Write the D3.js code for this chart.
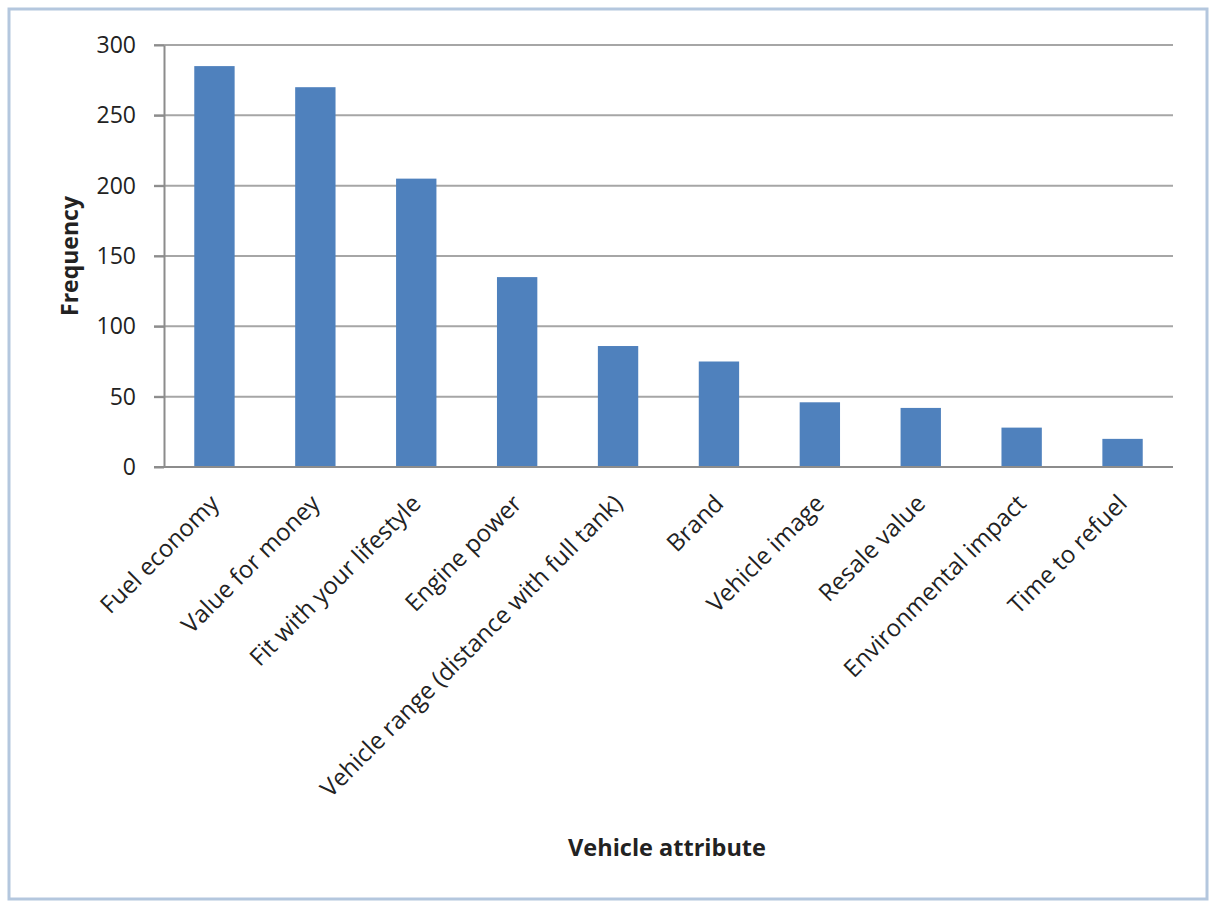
<html>
  <head>
    <title>Vehicle attribute frequency</title>
    <script type="text/javascript" src="https://cdn.jsdelivr.net/npm/d3@7"></script>
    <style type="text/css">
        body { margin: 0; background: #fff; }
        .chart text { font-family: "Open Sans", "DejaVu Sans", sans-serif; fill: #222; }
        .bar { fill: #4f81bd; }
        .grid line { stroke: #a6a6a6; stroke-width: 2; }
        .axis path, .axis line { stroke: #8c8c8c; stroke-width: 2; }
    </style>
  </head>
  <body>
    <div id="chart-container"></div>
    <script type="text/javascript">
      var categories = ["Fuel economy", "Value for money", "Fit with your lifestyle", "Engine power",
          "Vehicle range (distance with full tank)", "Brand", "Vehicle image", "Resale value",
          "Environmental impact", "Time to refuel"];
      var frequency = [285, 270, 205, 135, 86, 75, 46, 42, 28, 20];
      var yTicks = [0, 50, 100, 150, 200, 250, 300];

      var data = categories.map(function(c, i) { return {name: c, value: frequency[i]}; });

      var W = 1210, H = 902;
      var plotL = 164, plotR = 1173, plotT = 45, plotB = 467;

      var svg = d3.select("#chart-container").append("svg")
          .attr("class", "chart")
          .attr("width", W)
          .attr("height", H);

      // outer frame
      svg.append("rect")
          .attr("x", 9).attr("y", 9)
          .attr("width", 1198).attr("height", 890)
          .attr("fill", "#fff")
          .attr("stroke", "#b4c7de")
          .attr("stroke-width", 3);

      var x = d3.scaleBand().domain(categories).range([plotL, plotR]).paddingInner(0.6).paddingOuter(0.3);
      var y = d3.scaleLinear().domain([0, 300]).range([plotB, plotT]);

      // gridlines
      svg.append("g").attr("class", "grid")
          .selectAll("line").data(yTicks.slice(1)).enter().append("line")
          .attr("x1", plotL - 10).attr("x2", plotR)
          .attr("y1", function(d) { return y(d); })
          .attr("y2", function(d) { return y(d); });

      // bars
      svg.selectAll("rect.bar").data(data).enter().append("rect")
          .attr("class", "bar")
          .attr("x", function(d) { return x(d.name); })
          .attr("y", function(d) { return y(d.value); })
          .attr("width", x.bandwidth())
          .attr("height", function(d) { return plotB - y(d.value); });

      // y axis
      var yAxis = svg.append("g").attr("class", "axis")
          .attr("transform", "translate(" + plotL + ",0)")
          .call(d3.axisLeft(y).tickValues(yTicks).tickSize(10).tickPadding(18).tickSizeOuter(0));
      yAxis.selectAll("text").style("font-size", "23px").attr("font-family", null).attr("fill", "#222");

      // x axis baseline
      svg.append("line")
          .attr("x1", plotL - 10).attr("x2", plotR)
          .attr("y1", plotB).attr("y2", plotB)
          .attr("stroke", "#8c8c8c").attr("stroke-width", 2);

      // category labels
      svg.append("g").selectAll("text").data(categories).enter().append("text")
          .attr("transform", function(d) {
              return "translate(" + (x(d) + x.bandwidth() / 2 + 6) + "," + (plotB + 38) + ") rotate(-45)";
          })
          .attr("text-anchor", "end")
          .style("font-size", "24px")
          .text(function(d) { return d; });

      // axis titles
      svg.append("text")
          .attr("transform", "translate(78," + ((plotT + plotB) / 2) + ") rotate(-90)")
          .attr("text-anchor", "middle")
          .style("font-size", "23px").style("font-weight", "bold")
          .text("Frequency");

      svg.append("text")
          .attr("x", 667).attr("y", 856)
          .attr("text-anchor", "middle")
          .style("font-size", "23.5px").style("font-weight", "bold")
          .text("Vehicle attribute");
    </script>
  </body>
</html>
